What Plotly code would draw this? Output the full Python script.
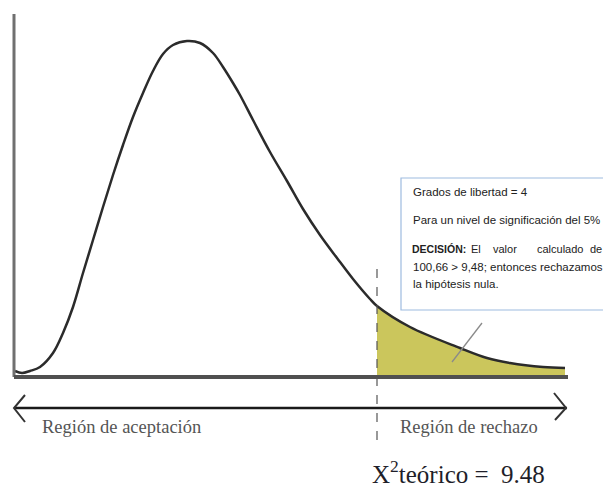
import plotly.graph_objects as go

# Curve (x: units right of the y-axis, y: units above the x-axis)
curve_x = [1, 8, 16, 26, 39, 49, 59, 69, 79, 89, 99, 109, 119, 129, 139, 149, 159, 173,
           186, 199, 209, 219, 226, 239, 256, 273, 289, 306, 323, 339, 356, 363, 396, 446,
           473, 496, 529, 551]
curve_y = [6, 4, 6, 10, 24, 44, 70, 104, 137, 170, 202, 232, 260, 284, 306, 323, 332, 336,
           334, 324, 310, 294, 282, 257, 225, 196, 168, 142, 119, 98, 78, 71, 50, 29,
           19, 14, 10, 9]

critical_x = 363          # position of 9.48 on the drawn axis
axis_end = 554
critical_label = "X<sup>2</sup>teórico =  9.48"
region_labels = ["Región de aceptación", "Región de rechazo"]
box_lines = ["Grados de libertad = 4",
             "Para un nivel de significación del 5%",
             None,
             "100,66 > 9,48; entonces rechazamos",
             "la hipótesis nula."]
decision_words = ["<b>DECISIÓN:</b>", "El", "valor", "calculado", "de"]
decision_word_x = [396, 455, 477, 521, 574]

tail_x = [x for x in curve_x if x >= critical_x]
tail_y = [y for x, y in zip(curve_x, curve_y) if x >= critical_x]

fig = go.Figure()

# shaded rejection region
fig.add_trace(go.Scatter(x=[critical_x] + tail_x + [tail_x[-1], critical_x],
                         y=[0] + tail_y + [0, 0],
                         mode="lines", fill="toself", fillcolor="#cbc65c",
                         line=dict(width=0), hoverinfo="skip", showlegend=False))

# density curve
fig.add_trace(go.Scatter(x=curve_x, y=curve_y, mode="lines",
                         line=dict(color="#2b2b2b", width=2.5, shape="spline", smoothing=1.0),
                         hoverinfo="skip", showlegend=False))

shapes = []
# y axis
shapes.append(dict(type="line", x0=0, x1=0, y0=0, y1=363, line=dict(color="#707070", width=3)))
# x axis
shapes.append(dict(type="line", x0=0, x1=axis_end, y0=0, y1=0, line=dict(color="#505050", width=4)))
# dashed critical line
shapes.append(dict(type="line", x0=critical_x, x1=critical_x, y0=-63, y1=112,
                   line=dict(color="#555555", width=1.2, dash="dash")))
# small pointer line in the tail
shapes.append(dict(type="line", x0=438, x1=468, y0=15, y1=54, line=dict(color="#8a8a8a", width=1.3)))
# double arrow below the axis
shapes.append(dict(type="line", x0=0, x1=553, y0=-31, y1=-31, line=dict(color="#1a1a1a", width=2.5)))
shapes.append(dict(type="path", path="M 11,-18 L 0,-31 L 11,-45",
                   line=dict(color="#333333", width=2)))
shapes.append(dict(type="path", path="M 540,-16 L 552,-31 L 541,-43",
                   line=dict(color="#333333", width=2)))
# text box
shapes.append(dict(type="rect", x0=387, x1=620, y0=67, y1=199,
                   line=dict(color="#9ebbe0", width=1.2), fillcolor="white"))

annotations = []
box_font = dict(family="Liberation Sans", size=11.5, color="#222222")
box_y = [185, 157, 128, 110, 93]
for txt, yy in zip(box_lines, box_y):
    if txt is None:
        continue
    annotations.append(dict(x=397, y=yy, text=txt, showarrow=False, xanchor="left",
                            yanchor="middle", font=box_font))
for i, (w, wx) in enumerate(zip(decision_words, decision_word_x)):
    f = dict(box_font)
    f["size"] = 10.5 if i == 0 else 11
    annotations.append(dict(x=wx, y=box_y[2], text=w, showarrow=False,
                            xanchor="left", yanchor="middle", font=f))
annotations.append(dict(x=26, y=-50, text=region_labels[0], showarrow=False, xanchor="left",
                        yanchor="middle", font=dict(family="Liberation Serif", size=18.5,
                                                     color="#555555")))
annotations.append(dict(x=384, y=-50, text=region_labels[1], showarrow=False, xanchor="left",
                        yanchor="middle", font=dict(family="Liberation Serif", size=18.5,
                                                     color="#555555")))
annotations.append(dict(x=356, y=-95, text=critical_label, showarrow=False, xanchor="left",
                        yanchor="middle", font=dict(family="Liberation Serif", size=25,
                                                     color="#1f1f2a")))

# the page body has an 8px margin, so the figure is 8px smaller and ranges are offset
fig.update_layout(
    width=603, height=478,
    margin=dict(l=0, r=0, t=0, b=0),
    paper_bgcolor="white", plot_bgcolor="white",
    xaxis=dict(range=[-6, 597], visible=False, fixedrange=True),
    yaxis=dict(range=[-109, 369], visible=False, fixedrange=True),
    shapes=shapes, annotations=annotations,
)

fig.write_html("out.html")
